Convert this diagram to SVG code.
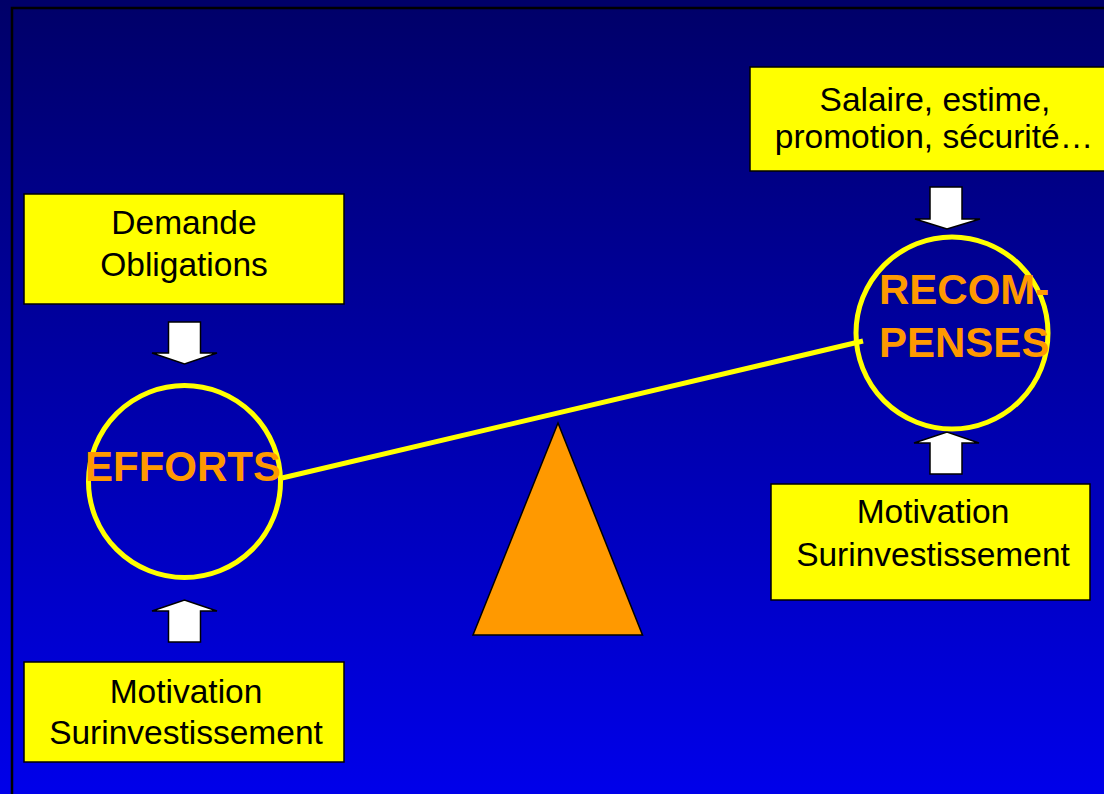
<svg xmlns="http://www.w3.org/2000/svg" width="1104" height="794" viewBox="0 0 1104 794">
<defs>
<linearGradient id="bg" x1="0" y1="0" x2="0" y2="1">
<stop offset="0" stop-color="#000068"/>
<stop offset="1" stop-color="#0000EA"/>
</linearGradient>
</defs>
<style>
.box{fill:#FFFF00;stroke:#000;stroke-width:1.5}
.lbl{font-family:"Liberation Sans",Arial,sans-serif;font-size:33.5px;fill:#000;text-anchor:middle}
.big{font-family:"Liberation Sans",Arial,sans-serif;font-size:42px;font-weight:bold;fill:#FF9900}
.circ{fill:none;stroke:#FFFF00;stroke-width:5}
.arr{fill:#FFFFFF;stroke:#000;stroke-width:1.5;stroke-linejoin:miter}
</style>
<rect x="0" y="0" width="1104" height="794" fill="url(#bg)"/>
<path d="M12 794 V8 H1104" fill="none" stroke="#000" stroke-width="2.5"/>

<g id="connectors">
<line x1="282" y1="478" x2="863" y2="341" stroke="#FFFF00" stroke-width="5"/>
<path class="arr" d="M168.5 322 H200.5 V353 H217 L184.5 364 L152 353 H168.5 Z"/>
<path class="arr" d="M168.5 642 H200.5 V611 H217 L184.5 600 L152 611 H168.5 Z"/>
<path class="arr" d="M930 187 H962 V219 H980 L947 229 L915 219 H930 Z"/>
<path class="arr" d="M930 474 H962 V443 H979 L947 432 L914 443 H930 Z"/>
</g>

<g id="fulcrum">
<polygon points="558,423 642.5,635 473,635" fill="#FF9900" stroke="#000" stroke-width="1.5"/>
</g>

<g id="box-demande">
<rect class="box" x="24" y="194" width="320" height="110"/>
<text class="lbl" x="184" y="234">Demande</text>
<text class="lbl" x="184" y="276">Obligations</text>
</g>

<g id="box-motivation-left">
<rect class="box" x="24" y="662" width="320" height="100"/>
<text class="lbl" x="186" y="703">Motivation</text>
<text class="lbl" x="186" y="744">Surinvestissement</text>
</g>

<g id="box-salaire">
<rect class="box" x="750" y="67" width="372" height="104"/>
<text class="lbl" x="935" y="111">Salaire, estime,</text>
<text class="lbl" x="934" y="148">promotion, sécurité…</text>
</g>

<g id="box-motivation-right">
<rect class="box" x="771" y="484" width="319" height="116"/>
<text class="lbl" x="933" y="523">Motivation</text>
<text class="lbl" x="933" y="566">Surinvestissement</text>
</g>

<g id="efforts">
<circle class="circ" cx="184.5" cy="481.5" r="96"/>
<text class="big" x="183" y="481" text-anchor="middle">EFFORTS</text>
</g>

<g id="recompenses">
<circle class="circ" cx="952" cy="333" r="96"/>
<text class="big" x="879" y="304">RECOM-</text>
<text class="big" x="879" y="357">PENSES</text>
</g>
</svg>
